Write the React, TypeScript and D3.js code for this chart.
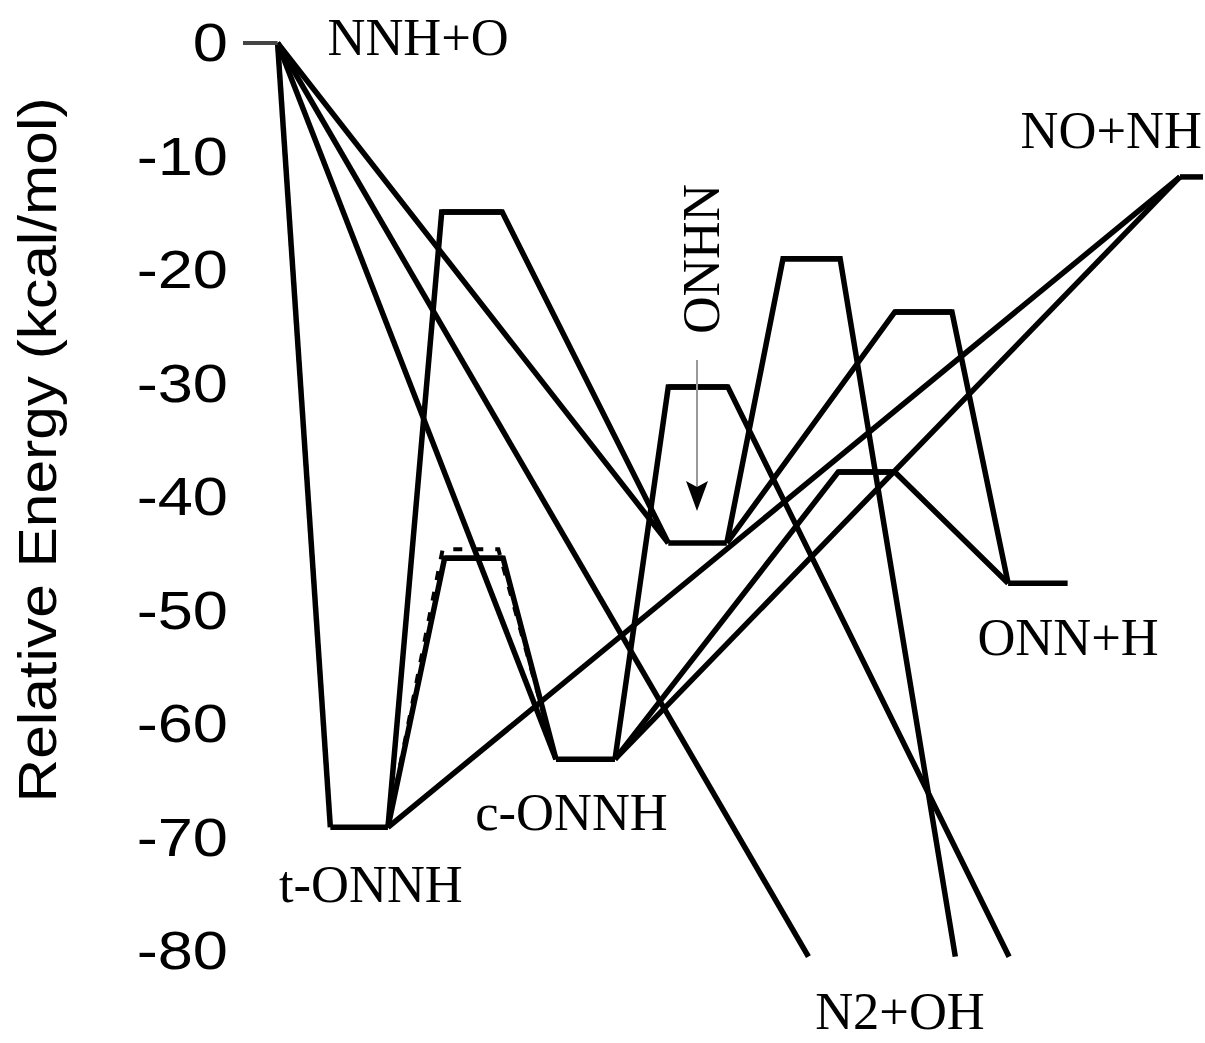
import React, { useEffect, useRef } from 'react';
import * as d3 from 'd3';

// stationary points: name, energy (kcal/mol), reaction-coordinate start / end
const levelNames = ['NNH+O', 't-ONNH', 'TS1', 'TS2', 'c-ONNH', 'TS3', 'ONHN', 'TS4', 'TS5', 'TS6', 'ONN+H', 'NO+NH', 'P1', 'P2', 'P3'];
const levelEnergy = [0, -69.1, -14.9, -45.4, -63.1, -30.3, -44.05, -19.0, -23.7, -37.8, -47.6, -11.8, -80.5, -80.5, -80.5];
const levelStart = [0, 9.1, 20.7, 21.0, 32.6, 44.3, 44.3, 56.25, 67.9, 62.0, 79.7, 97.6, 58.9, 74.2, 79.8];
const levelEnd = [3.6, 15.1, 27.0, 27.1, 38.75, 50.5, 50.4, 62.2, 73.85, 67.9, 85.9, 100, 58.9, 74.2, 79.8];

// dashed alternative barrier (t-ONNH -> c-ONNH)
const dashedTS = { energy: -44.6, start: 20.8, end: 26.6 };

// reaction channels (sequences of stationary points)
const channels = [
  ['NNH+O', 't-ONNH'],
  ['NNH+O', 'c-ONNH'],
  ['NNH+O', 'ONHN'],
  ['NNH+O', 'P1'],
  ['t-ONNH', 'TS1', 'ONHN'],
  ['t-ONNH', 'TS2', 'c-ONNH'],
  ['t-ONNH', 'NO+NH'],
  ['c-ONNH', 'TS3', 'P3'],
  ['c-ONNH', 'TS6', 'ONN+H'],
  ['c-ONNH', 'NO+NH'],
  ['ONHN', 'TS4', 'P2'],
  ['ONHN', 'TS5', 'ONN+H'],
];

const yTicks = [0, -10, -20, -30, -40, -50, -60, -70, -80];

// species labels: text, reaction coordinate (left edge), energy at baseline
const labels = [
  { text: 'NNH+O', x: 8.8, e: -1.06 },
  { text: 'NO+NH', x: 81.0, e: -9.25 },
  { text: 'ONN+H', x: 76.5, e: -53.9 },
  { text: 'c-ONNH', x: 24.2, e: -69.3 },
  { text: 't-ONNH', x: 3.75, e: -75.7 },
  { text: 'N2+OH', x: 59.6, e: -86.9 },
];

export default function App() {
  const ref = useRef<SVGSVGElement>(null);

  useEffect(() => {
    const svg = d3.select(ref.current);
    svg.selectAll('*').remove();

    const x = d3.scaleLinear().domain([0, 100]).range([243, 1203]);
    const y = d3.scaleLinear().domain([0, -80]).range([43, 951]);

    const idx = (n: string) => levelNames.indexOf(n);
    const line = d3.line<[number, number]>().x(d => x(d[0])).y(d => y(d[1]));

    const g = svg.append('g');

    // connectors, running over each barrier plateau
    channels.forEach(ch => {
      const pts: [number, number][] = [];
      ch.forEach((n, k) => {
        const i = idx(n);
        if (k === 0) pts.push([levelEnd[i], levelEnergy[i]]);
        else if (k === ch.length - 1) pts.push([levelStart[i], levelEnergy[i]]);
        else {
          pts.push([levelStart[i], levelEnergy[i]]);
          pts.push([levelEnd[i], levelEnergy[i]]);
        }
      });
      g.append('path')
        .attr('d', line(pts))
        .attr('fill', 'none')
        .attr('stroke', '#000')
        .attr('stroke-width', 5.5)
        .attr('stroke-linejoin', 'miter');
    });

    // level plateaus
    levelNames.forEach((n, i) => {
      if (n.startsWith('P')) return;
      g.append('line')
        .attr('x1', x(levelStart[i]))
        .attr('x2', x(levelEnd[i]))
        .attr('y1', y(levelEnergy[i]))
        .attr('y2', y(levelEnergy[i]))
        .attr('stroke', n === 'NNH+O' ? '#444' : '#000')
        .attr('stroke-width', n === 'NNH+O' ? 4 : 5.5);
    });

    // dashed barrier
    const t = idx('t-ONNH');
    const c = idx('c-ONNH');
    g.append('path')
      .attr('d', line([
        [levelEnd[t], levelEnergy[t]],
        [dashedTS.start, dashedTS.energy],
        [dashedTS.end, dashedTS.energy],
        [levelStart[c], levelEnergy[c]],
      ]))
      .attr('fill', 'none')
      .attr('stroke', '#000')
      .attr('stroke-width', 4)
      .attr('stroke-dasharray', '9,12');

    // y tick labels
    svg.append('g')
      .selectAll('text')
      .data(yTicks)
      .join('text')
      .attr('transform', d => `translate(228,${y(d)}) scale(1.17,1)`)
      .attr('dy', '0.34em')
      .attr('text-anchor', 'end')
      .attr('font-family', "'Liberation Sans', Arial, sans-serif")
      .attr('font-size', 54)
      .text(d => d);

    // y axis title
    svg.append('text')
      .attr('transform', `translate(56,${(95 + 805) / 2}) rotate(-90)`)
      .attr('text-anchor', 'middle')
      .attr('font-family', "'Liberation Sans', Arial, sans-serif")
      .attr('font-size', 54)
      .attr('textLength', 705)
      .attr('lengthAdjust', 'spacingAndGlyphs')
      .text('Relative Energy (kcal/mol)');

    // species labels
    svg.append('g')
      .selectAll('text')
      .data(labels)
      .join('text')
      .attr('x', d => x(d.x))
      .attr('y', d => y(d.e))
      .attr('font-family', "'Liberation Serif', 'Times New Roman', serif")
      .attr('font-size', 52.5)
      .text(d => d.text);

    // ONHN rotated label and arrow
    svg.append('text')
      .attr('transform', `translate(719,259) rotate(-90)`)
      .attr('text-anchor', 'middle')
      .attr('font-family', "'Liberation Serif', 'Times New Roman', serif")
      .attr('font-size', 52)
      .text('ONHN');

    svg.append('line')
      .attr('x1', 697).attr('x2', 697)
      .attr('y1', 360).attr('y2', 490)
      .attr('stroke', '#999')
      .attr('stroke-width', 2);
    svg.append('path')
      .attr('d', 'M686,481 L697,511 L708,481 L697,487 Z')
      .attr('fill', '#000');
  }, []);

  return (
    <svg
      ref={ref}
      width={1205}
      height={1043}
      style={{ position: 'absolute', left: 0, top: 0, background: '#fff' }}
    />
  );
}
